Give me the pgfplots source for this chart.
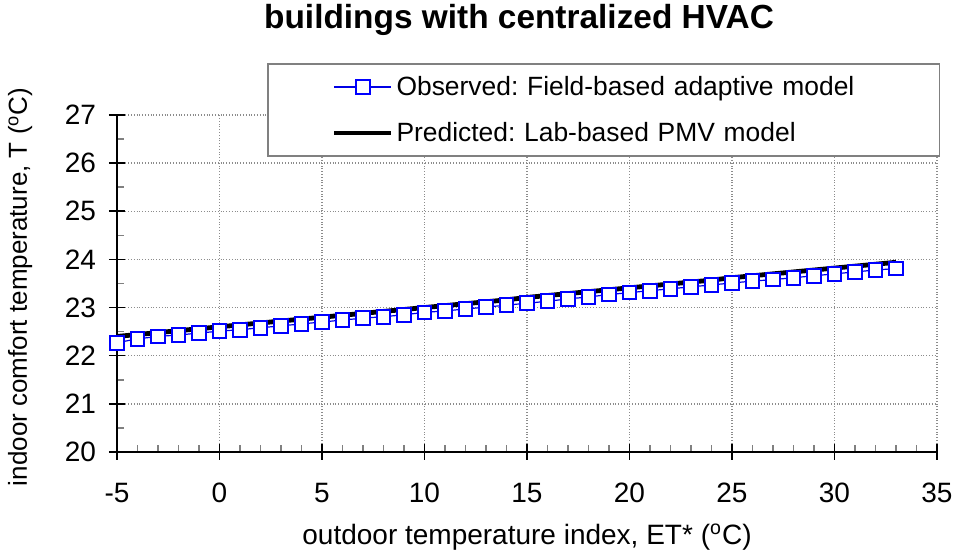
\documentclass[border=0pt]{standalone}
\usepackage{fontspec}
\setmainfont{Liberation Sans}
\usepackage{pgfplots}
\pgfplotsset{compat=1.18}
\begin{document}
\begin{tikzpicture}
\begin{axis}[
  name=ax,
  scale only axis,
  width=410pt, height=168.5pt,
  xmin=-5, xmax=35, ymin=20, ymax=27,
  xtick={-5,0,...,35}, ytick={20,...,27},
  minor x tick num=4, minor y tick num=1,
  axis x line*=bottom, axis y line*=left,
  axis line style={-, black, line width=0.8pt},
  tick align=inside,
  major tick length=4pt, minor tick length=3.5pt,
  every tick/.style={black, line width=0.8pt},
  minor tick style={gray, line width=0.8pt},
  extra x ticks={-5,0,...,35}, extra y ticks={20,...,27},
  extra x tick labels={}, extra y tick labels={},
  extra tick style={grid=none, tick align=outside, major tick length=4pt},
  grid=major,
  major grid style={densely dotted, gray!90, line width=0.7pt},
  ticklabel style={font=\fontsize{14}{16}\selectfont},
  /pgf/number format/assume math mode=true,
  xticklabel style={yshift=-12pt},
  yticklabel style={xshift=-7pt},
  xlabel={outdoor temperature index, ET* (\textsuperscript{o}C)},
  ylabel={indoor comfort temperature, T (\textsuperscript{o}C)},
  xlabel style={font=\fontsize{14}{16}\selectfont, at={(axis description cs:0.5,-0.252)}, anchor=center},
  ylabel style={font=\fontsize{13}{15}\selectfont, at={(axis description cs:-0.118,0.49)}, anchor=center},
  legend style={at={(axis description cs:0.183,1.154)}, anchor=north west,
    draw=gray, line width=0.8pt, fill=white, font=\fontsize{13.2}{15}\selectfont,
    inner xsep=32pt, inner ysep=4pt, row sep=8pt,
    nodes={inner xsep=1.5pt, inner ysep=2pt},
    /tikz/every even column/.append style={text width=238pt, align=left}},
  legend cell align=left,
  reverse legend,
]
\addplot[black, line width=2.4pt, no marks,
  legend image code/.code={\draw[black, line width=2.4pt] (0cm,0cm) -- (1cm,0cm);}]
coordinates {
(-5,22.40)(-4,22.44)(-3,22.48)(-2,22.52)(-1,22.56)(0,22.60)(1,22.64)(2,22.68)(3,22.72)(4,22.76)
(5,22.80)(6,22.84)(7,22.88)(8,22.92)(9,22.96)(10,23.00)(11,23.04)(12,23.08)(13,23.12)(14,23.16)
(15,23.21)(16,23.25)(17,23.29)(18,23.33)(19,23.37)(20,23.41)(21,23.45)(22,23.49)(23,23.53)(24,23.57)
(25,23.62)(26,23.66)(27,23.70)(28,23.74)(29,23.78)(30,23.82)(31,23.86)(32,23.90)(33,23.94)
};
\addlegendentry{Predicted:\ Lab-based PMV model}
\addplot[blue!90!black, line width=0.6pt, mark=square*, mark size=3.4pt,
  mark options={fill=white, draw=blue, line width=1pt},
  legend image code/.code={\draw[blue!90!black, line width=0.6pt, mark repeat=2, mark phase=2] plot coordinates {(0cm,0cm)(0.5cm,0cm)(1cm,0cm)};}]
coordinates {
(-5,22.27)(-4,22.35)(-3,22.40)(-2,22.43)(-1,22.47)(0,22.51)(1,22.54)(2,22.58)(3,22.62)(4,22.66)
(5,22.70)(6,22.74)(7,22.78)(8,22.81)(9,22.85)(10,22.90)(11,22.93)(12,22.97)(13,23.01)(14,23.05)
(15,23.09)(16,23.13)(17,23.18)(18,23.22)(19,23.27)(20,23.31)(21,23.35)(22,23.39)(23,23.43)(24,23.47)
(25,23.51)(26,23.55)(27,23.58)(28,23.62)(29,23.66)(30,23.70)(31,23.74)(32,23.78)(33,23.81)
};
\addlegendentry{Observed:\ Field-based adaptive model}
\end{axis}
\node[font=\bfseries\fontsize{16.7}{19}\selectfont, anchor=center] at ([xshift=-4pt, yshift=47.5pt]ax.north) {buildings with centralized HVAC};
\pgfresetboundingbox
\path[use as bounding box] ([xshift=-58.5pt, yshift=-53pt]ax.south west) rectangle ([xshift=11pt, yshift=57.5pt]ax.north east);
\end{tikzpicture}
\end{document}
